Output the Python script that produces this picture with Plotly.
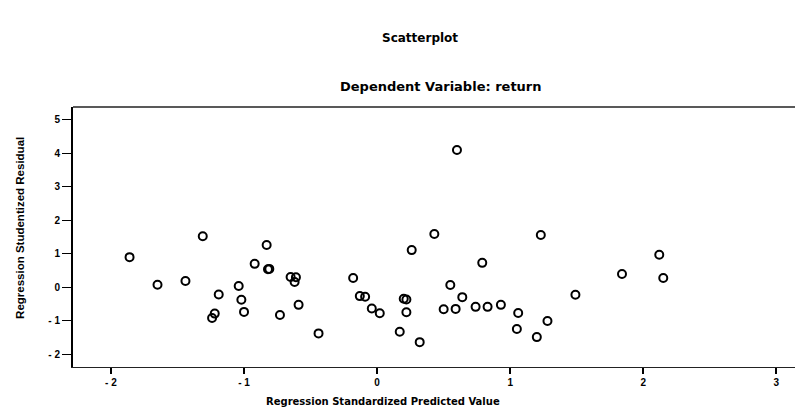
import plotly.graph_objects as go

# Regression standardized predicted value (x) vs studentized residual (y)
pred_values = [-1.86, -1.65, -1.44, -1.31, -1.19, -1.04, -1.02, -1.00, -1.22, -1.24,
               -0.92, -0.83, -0.82, -0.81, -0.65, -0.61, -0.62, -0.73, -0.59, -0.44,
               -0.18, -0.13, -0.09, -0.04, 0.02, 0.20, 0.22, 0.22, 0.17, 0.32,
               0.26, 0.43, 0.50, 0.59, 0.55, 0.60, 0.64, 0.74, 0.79, 0.83,
               0.93, 1.06, 1.05, 1.20, 1.23, 1.28, 1.49, 1.84, 2.12, 2.15]
residuals = [0.90, 0.08, 0.19, 1.52, -0.21, 0.04, -0.37, -0.73, -0.78, -0.91,
             0.70, 1.26, 0.54, 0.55, 0.31, 0.30, 0.16, -0.82, -0.52, -1.37,
             0.28, -0.26, -0.28, -0.63, -0.77, -0.34, -0.36, -0.74, -1.32, -1.63,
             1.11, 1.59, -0.65, -0.64, 0.07, 4.09, -0.29, -0.58, 0.73, -0.58,
             -0.52, -0.76, -1.24, -1.48, 1.56, -1.00, -0.22, 0.40, 0.97, 0.28]

x_ticks = [-2, -1, 0, 1, 2, 3]
x_tick_labels = ["- 2", "- 1", "0", "1", "2", "3"]
y_ticks = [-2, -1, 0, 1, 2, 3, 4, 5]
y_tick_labels = ["- 2", "- 1", "0", "1", "2", "3", "4", "5"]

main_title = "Scatterplot"
sub_title = "Dependent Variable: return"
x_title = "Regression Standardized Predicted Value"
y_title = "Regression Studentized Residual"

FONT = "Liberation Sans, Arial, sans-serif"
WIDE = "DejaVu Sans, Liberation Sans, sans-serif"
NARROW = "Liberation Sans Narrow, Liberation Sans, Arial, sans-serif"

fig = go.Figure()
fig.add_trace(go.Scatter(
    x=pred_values, y=residuals, mode="markers",
    marker=dict(symbol="circle-open", size=8, color="black",
                line=dict(color="black", width=2)),
    showlegend=False, hoverinfo="skip",
))

fig.update_layout(
    width=795, height=402,
    margin=dict(l=65, r=0, t=99, b=43),
    paper_bgcolor="white", plot_bgcolor="white",
    font=dict(family=FONT, color="black"),
    xaxis=dict(range=[-2.285, 3.20], tickvals=x_ticks, ticktext=x_tick_labels,
               showgrid=False, zeroline=False, showline=True, linecolor="#222",
               linewidth=1, ticks="outside", ticklen=6, tickwidth=2, tickcolor="black",
               tickfont=dict(size=10, family=FONT, weight="bold")),
    yaxis=dict(range=[-2.37, 5.37], tickvals=y_ticks, ticktext=y_tick_labels,
               showgrid=False, zeroline=False, showline=True, linecolor="black",
               linewidth=2, ticks="outside", ticklen=9, tickwidth=1, tickcolor="black",
               tickfont=dict(size=10, family=FONT, weight="bold")),
)

# top border of the frame
fig.add_shape(type="line", xref="paper", yref="paper", x0=0, x1=1, y0=1, y1=1,
              line=dict(color="#222", width=1.5))

fig.add_annotation(text=main_title, xref="paper", yref="paper", x=0.475, y=1.265,
                   showarrow=False, font=dict(size=12, family=WIDE, weight="bold"),
                   xanchor="center", yanchor="middle")
fig.add_annotation(text=sub_title, xref="paper", yref="paper", x=0.504, y=1.077,
                   showarrow=False, font=dict(size=13, family=WIDE, weight="bold"),
                   xanchor="center", yanchor="middle")
fig.add_annotation(text=x_title, xref="paper", yref="paper", x=0.4247, y=-0.1346,
                   showarrow=False, font=dict(size=10, family=WIDE, weight="bold"),
                   xanchor="center", yanchor="middle")
fig.add_annotation(text=y_title, xref="paper", yref="paper", x=-0.0726, y=0.535,
                   showarrow=False, textangle=-90,
                   font=dict(size=11.5, family=NARROW, weight="bold"),
                   xanchor="center", yanchor="middle")

fig.write_html("out.html")
